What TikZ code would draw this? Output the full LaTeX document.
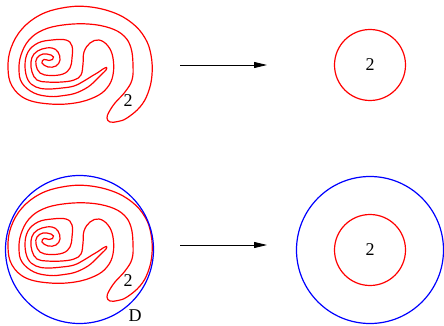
\documentclass[tikz,border=0pt]{standalone}
\usepackage{fontspec}
\setmainfont{Liberation Serif}
\usetikzlibrary{arrows.meta}

% the tangled Jordan curve, in pixel units (y downwards)
\newcommand{\jordanloop}{plot[smooth cycle, tension=0.65] coordinates {
  (110,122) (118,121.5) (127,118) (140,107) (148,93) (152,75) (151,55)
  (145,38) (132,23) (112,12) (86,6.5) (62,8) (40,15) (22,29) (11,48) (8,68)
  (12,86) (26,99) (50,104) (75,103) (95,97) (107,88) (113,75) (113,58)
  (108,46) (99,40) (90,43) (84,52) (83,64) (81,75) (74,80) (62,82) (47,82)
  (37,80) (32,72) (31,62) (34,54) (42,49) (52,48) (58,52) (60,60) (56,66)
  (48,67) (42,63) (44,59.5) (49,60.5) (52.5,59.5) (53.5,57) (51,55) (43,54)
  (37,58) (36,65) (40,73) (50,75.5) (63,74) (70,68) (72,58) (72,46) (66,40)
  (52,40) (38,43) (28,52) (25,66) (28,80) (36,87) (47,89) (62,88) (74,86)
  (84,81) (92,76) (98,72.5) (103,69) (106.5,67.5) (106,70) (102,74) (96,80)
  (88,87) (76,93) (64,95.5) (50,96.5) (34,93) (22,83) (19,70) (21,55)
  (29,40) (43,30) (63,25) (88,24) (110,28) (124,36) (131,48) (133,65)
  (132,80) (125,92) (115,103) (109,112) (107,118)
}}

\begin{document}
\begin{tikzpicture}[
    x=1pt, y=-1pt,
    font=\fontsize{18}{20}\selectfont,
    curve/.style={draw=red, line width=1.2pt},
    rim/.style={circle, draw=blue, line width=1.2pt, inner sep=0pt},
    disk/.style={circle, draw=red, line width=1.2pt, minimum size=71pt, inner sep=0pt},
    ray/.style={-{Triangle[length=13pt,width=6pt]}, line width=0.8pt}
  ]
    \useasboundingbox (0,0) rectangle (444,326);

    \draw[curve] \jordanloop;
    \node (two1) at (128,101) {2};
    \coordinate (top from) at (180,65);
    \coordinate (top to) at (267,65);
    \draw[ray] (top from) -- (top to);
    \node[disk] (round1) at (370,65) {2};

    \begin{scope}[yshift=-179pt]
      \draw[curve] \jordanloop;
      \node (two2) at (128,102) {2};
    \end{scope}
    \node[rim, minimum size=148pt] (discD) at (79.5,249.5) {};
    \node (labelD) at (135,316) {D};
    \coordinate (low from) at (180,245);
    \coordinate (low to) at (267,245);
    \draw[ray] (low from) -- (low to);
    \node[rim, minimum size=147pt] (disc2) at (370,250) {};
    \node[disk] (round2) at (370,250) {2};
  \end{tikzpicture}
\end{document}
